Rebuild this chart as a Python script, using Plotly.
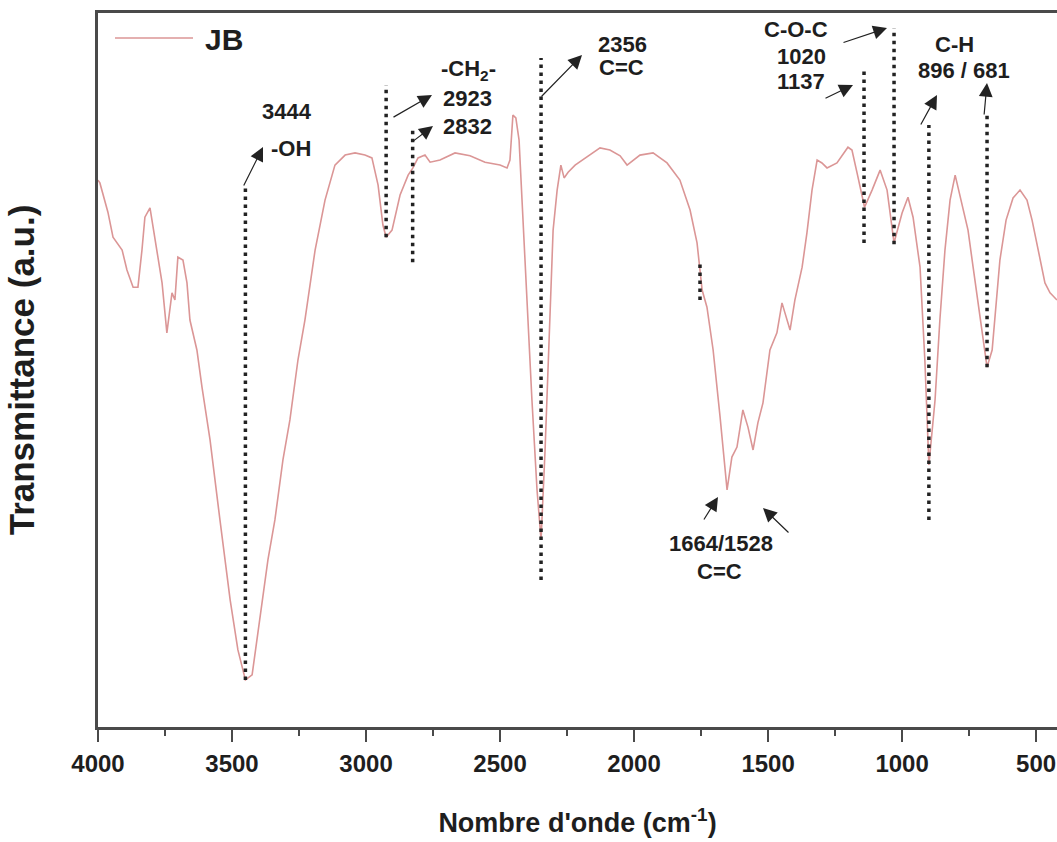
import plotly.graph_objects as go

# ---------------- data ----------------
wavenumber = [4000, 3993, 3963, 3944, 3910, 3892, 3869, 3851, 3836, 3825, 3806, 3795, 3780, 3761,
              3743, 3724, 3713, 3702, 3683, 3668, 3657, 3631, 3612, 3582, 3545, 3507, 3478, 3450,
              3425, 3396, 3366, 3340, 3310, 3284, 3254, 3228, 3190, 3153, 3116, 3078, 3041, 3004,
              2978, 2955, 2937, 2925, 2903, 2873, 2843, 2825, 2806, 2780, 2761, 2724, 2668, 2612,
              2556, 2500, 2474, 2463, 2452, 2441, 2429, 2418, 2400, 2381, 2362, 2347, 2332, 2317,
              2302, 2287, 2273, 2261, 2246, 2220, 2164, 2127, 2090, 2052, 2026, 1978, 1929, 1903,
              1877, 1829, 1791, 1765, 1746, 1728, 1705, 1679, 1661, 1653, 1635, 1616, 1594, 1575,
              1556, 1538, 1519, 1493, 1467, 1448, 1437, 1418, 1400, 1373, 1355, 1336, 1317, 1299,
              1280, 1243, 1202, 1187, 1168, 1140, 1112, 1082, 1056, 1030, 1000, 978, 959, 933,
              915, 900, 877, 859, 840, 821, 802, 773, 754, 735, 709, 690, 683, 664, 650, 635, 612,
              586, 560, 534, 515, 485, 467, 448, 422]
transmittance = [76.6, 76.2, 72.1, 68.6, 66.8, 64.0, 61.6, 61.6, 66.8, 71.4, 72.7, 70.0, 66.8, 62.2,
                 55.2, 60.8, 59.8, 65.8, 65.4, 62.2, 57.0, 52.8, 47.6, 40.2, 29.0, 17.8, 10.8, 6.6,
                 7.3, 15.0, 23.4, 29.0, 37.4, 43.0, 51.4, 57.0, 66.8, 73.8, 78.7, 80.1, 80.4, 80.1,
                 79.7, 75.9, 70.3, 68.6, 69.6, 74.5, 77.3, 78.3, 79.7, 80.1, 79.1, 79.4, 80.4, 80.0,
                 79.1, 78.7, 78.3, 79.4, 85.7, 85.3, 82.2, 73.8, 59.8, 45.8, 33.2, 26.2, 38.8, 55.6,
                 69.6, 75.2, 78.7, 76.9, 77.7, 78.7, 80.1, 81.1, 80.8, 80.0, 78.7, 80.1, 80.4, 79.7,
                 79.0, 76.6, 72.4, 67.8, 61.2, 58.8, 52.8, 43.4, 36.4, 33.2, 37.8, 39.2, 44.4, 42.0,
                 38.8, 42.6, 45.4, 52.8, 55.2, 59.4, 58.0, 55.6, 59.8, 64.4, 69.2, 75.2, 79.4, 79.0,
                 78.3, 79.0, 81.2, 80.8, 77.6, 72.8, 75.2, 78.0, 75.2, 67.8, 72.0, 74.2, 71.4, 64.4,
                 51.4, 36.7, 45.8, 57.0, 66.8, 73.8, 77.3, 72.8, 69.6, 64.4, 57.0, 52.1, 50.4, 52.8,
                 58.4, 65.4, 71.0, 74.1, 75.2, 73.8, 71.0, 65.4, 62.2, 60.8, 59.8]

series_name = "JB"
tick_values = [4000, 3500, 3000, 2500, 2000, 1500, 1000, 500]

# dotted marker lines: wavenumber, top, bottom (transmittance units)
marker_x = [3450, 2925, 2826, 2347, 1754, 1142, 1030, 900, 683]
marker_top = [75.6, 89.9, 83.9, 93.7, 65.4, 92.3, 97.9, 84.3, 86.1]
marker_bottom = [6.6, 68.6, 65.1, 20.6, 59.8, 67.8, 67.6, 29.0, 50.4]

# band labels
label_texts = ["3444", "-OH", "-CH<sub>2</sub>-", "2923", "2832", "2356", "C=C",
               "C-O-C", "1020", "1137", "C-H", "896 / 681", "1664/1528", "C=C"]

# ---------------- layout geometry (pixels) ----------------
W, H = 1057, 842
L, R, T, B = 98, 0, 13, 115
PW, PH = W - L - R, H - T - B


def px(x):
    return (x - L) / PW


def py(y):
    return (H - B - y) / PH


label_pos = [(287, 112), (291, 148), (468, 70), (467, 98), (467, 126), (622, 45), (621, 68),
             (796, 29), (801, 56), (801, 82), (954, 45), (964, 70), (721, 543), (719, 571)]
arrows = [((243, 187), (263, 147)), ((392, 118), (432, 95)), ((412, 142), (433, 126)),
          ((540, 98), (582, 55)), ((842, 43), (887, 28)), ((824, 99), (853, 85)),
          ((920, 126), (937, 95)), ((984, 116), (987, 83)), ((703, 521), (718, 497)),
          ((790, 534), (763, 508))]

FONT = "Liberation Sans, Arial, sans-serif"
TXT = "#1e1e1e"
CURVE = "#db9696"
AXIS = "#4a4a4a"

fig = go.Figure()
fig.add_trace(go.Scatter(x=wavenumber, y=transmittance, mode="lines", name=series_name,
                         line=dict(color=CURVE, width=1.6), showlegend=False))

shapes = []
for xv, t, b in zip(marker_x, marker_top, marker_bottom):
    shapes.append(dict(type="line", xref="x", yref="y", x0=xv, x1=xv, y0=b, y1=t,
                       line=dict(color="#222222", width=3.5, dash="3.5px,4.5px")))
# manual legend line
shapes.append(dict(type="line", xref="paper", yref="paper", x0=px(115), x1=px(193),
                   y0=py(38), y1=py(38), line=dict(color=CURVE, width=1.6)))

annotations = []
for txt, (x, y) in zip(label_texts, label_pos):
    annotations.append(dict(text=txt, x=px(x), y=py(y), xref="paper", yref="paper",
                            showarrow=False, xanchor="center", yanchor="middle",
                            font=dict(family=FONT, size=22, color=TXT, weight="bold")))
for (tx, ty), (hx, hy) in arrows:
    annotations.append(dict(text="", x=px(hx), y=py(hy), xref="paper", yref="paper",
                            ax=tx - hx, ay=ty - hy, showarrow=True, arrowhead=2,
                            arrowsize=2.3, arrowwidth=1.2, arrowcolor="#222222"))
annotations.append(dict(text=series_name, x=px(203), y=py(40), xref="paper", yref="paper",
                        showarrow=False, xanchor="left", yanchor="middle",
                        font=dict(family=FONT, size=30, color=TXT, weight="bold")))

fig.update_layout(
    width=W, height=H,
    margin=dict(l=L, r=R, t=T, b=B, pad=0),
    paper_bgcolor="white", plot_bgcolor="white",
    shapes=shapes, annotations=annotations,
    xaxis=dict(range=[4000, 422], tickvals=tick_values, ticks="outside", ticklen=12,
               tickwidth=2, tickcolor=AXIS, showline=True, linewidth=2.5, linecolor=AXIS,
               mirror=True, showgrid=False, zeroline=False, ticklabelstandoff=1,
               minor=dict(dtick=250, ticks="outside", ticklen=6, tickwidth=2, tickcolor=AXIS,
                          showgrid=False),
               tickfont=dict(family=FONT, size=24, color=TXT, weight="bold"),
               title=dict(text="Nombre d'onde (cm<sup>-1</sup>)", standoff=38,
                          font=dict(family=FONT, size=27, color=TXT, weight="bold"))),
    yaxis=dict(range=[0, 100], showticklabels=False, ticks="", showline=True, linewidth=2.5,
               linecolor=AXIS, mirror=False, showgrid=False, zeroline=False,
               title=dict(text="Transmittance (a.u.)", standoff=51,
                          font=dict(family=FONT, size=35, color=TXT, weight="bold"))),
)

fig.write_html("out.html")
